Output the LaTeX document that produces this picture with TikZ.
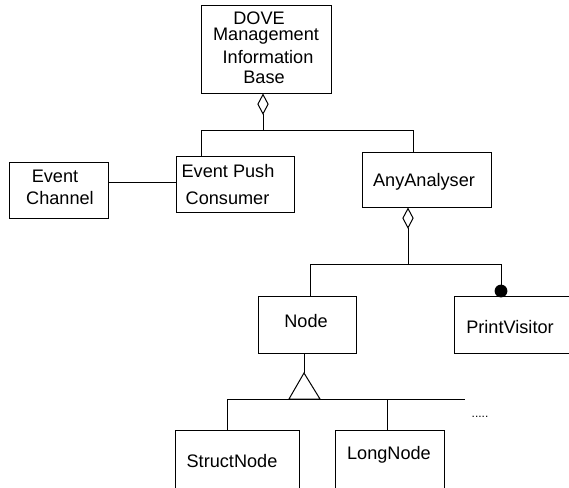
\documentclass[tikz,border=0pt]{standalone}
\usepackage{fontspec}
\setmainfont{Liberation Sans}
\usetikzlibrary{arrows.meta}
\tikzset{
  box/.style={draw, rectangle, inner sep=0pt, line width=0.75pt},
  lbl/.style={inner sep=0pt, font=\fontsize{13.6}{16}\selectfont},
  conn/.style={line width=0.75pt},
  aggr/.style={conn, -{Diamond[open, fill=white, length=16pt, width=8.5pt, line width=0.75pt]}},
}
\begin{document}
\begin{tikzpicture}[x=0.75pt, y=-0.75pt]
\clip (0,0) rectangle (569,487);
\fill[white] (0,0) rectangle (569,487);
% boxes
\node[box, minimum width=97.5pt, minimum height=66pt] (dove) at (266,49) {};
\node[box, minimum width=88.5pt, minimum height=42pt] (epc) at (235,184) {};
\node[box, minimum width=74.25pt, minimum height=42pt] (ec) at (58.5,190) {};
\node[box, minimum width=96.75pt, minimum height=41.25pt] (any) at (426.5,179.5) {};
\node[box, minimum width=73.5pt, minimum height=42.75pt] (nd) at (307,324.5) {};
\node[box, minimum width=94.5pt, minimum height=42.75pt] (pv) at (517,324.5) {};
\node[box, minimum width=93pt, minimum height=52.5pt] (sn) at (237,465) {};
\node[box, minimum width=81.75pt, minimum height=52.5pt] (ln) at (389.5,465) {};
% texts
\node[lbl] (t1) at (259,18.5) {DOVE};
\node[lbl] (t2) at (266,36.5) {Management};
\node[lbl] (t3) at (268,57) {Information};
\node[lbl] (t4) at (264,77) {Base};
\node[lbl] (t5) at (228,171) {Event Push};
\node[lbl] (t6) at (227.5,198) {Consumer};
\node[lbl] (t7) at (55,176) {Event};
\node[lbl] (t8) at (60,198) {Channel};
\node[lbl] (t9) at (424,182) {AnyAnalyser};
\node[lbl] (t10) at (306,321) {Node};
\node[lbl] (t11) at (510,327) {PrintVisitor};
\node[lbl] (t12) at (232,461) {StructNode};
\node[lbl] (t13) at (389,455) {LongNode};
\node[inner sep=0pt, font=\fontsize{9}{10}\selectfont] (dots) at (480,417) {.....};
% DOVE aggregation
\coordinate (j1) at (263,130);
\coordinate (b1) at (201,130);
\coordinate (b2) at (413,130);
\draw[aggr] (j1) -- (j1 |- dove.south);
\draw[conn] (b1 |- epc.north) -- (b1) -- (b2) -- (b2 |- any.north);
% event channel link
\coordinate (c1) at (0,182);
\draw[conn] (ec.east |- c1) -- (epc.west |- c1);
% AnyAnalyser aggregation
\coordinate (j2) at (408,264);
\coordinate (b3) at (310,264);
\coordinate (b4) at (501,264);
\coordinate (dot) at (501,291);
\draw[aggr] (j2) -- (j2 |- any.south);
\draw[conn] (b3 |- nd.north) -- (b3) -- (b4) -- (dot);
\fill (dot) circle[radius=4.8pt];
% inheritance
\coordinate (apex) at (304,373);
\coordinate (g1) at (227,399);
\coordinate (g2) at (387,399);
\coordinate (g3) at (465,399);
\draw[conn] (apex |- nd.south) -- (apex);
\draw[conn] (apex) -- (289,399) -- (320,399) -- cycle;
\draw[conn] (g1 |- sn.north) -- (g1) -- (g3);
\draw[conn] (g2) -- (g2 |- ln.north);
\end{tikzpicture}
\end{document}
